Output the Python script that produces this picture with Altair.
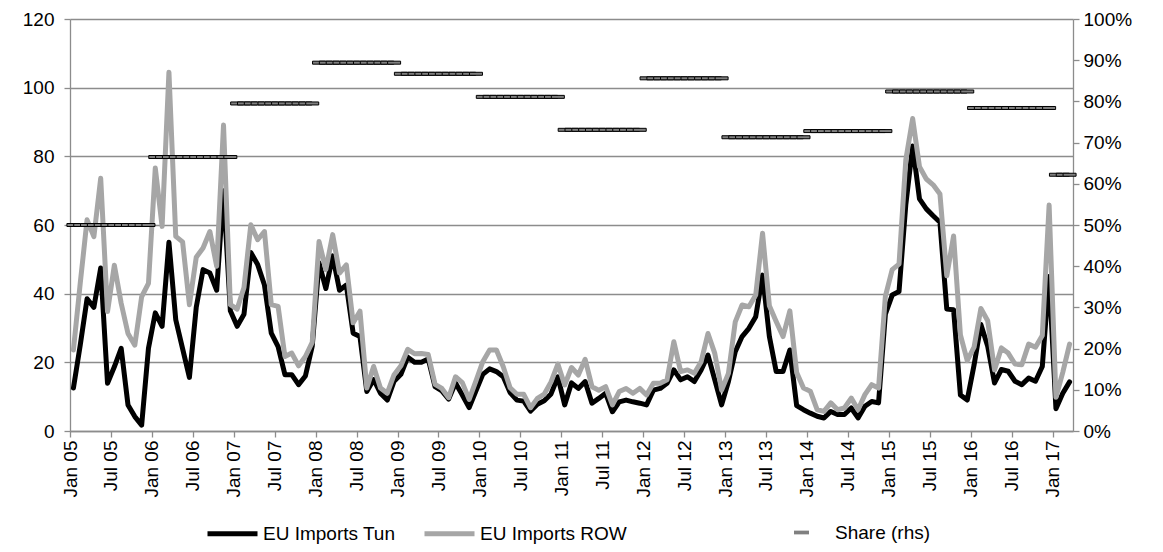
import altair as alt
import pandas as pd

# Monthly values, Jan 05 .. Mar 17
tun = [
    12.5, 25, 38.5, 36, 47.5, 13.9, 18.7, 24.1, 7.6, 4.2, 1.7, 24.1,
    34.4, 30.5, 55, 32.4, 24, 15.6, 36, 47, 46, 41, 70, 35,
    30.5, 34, 52, 48.5, 42.5, 28.5, 24.6, 16.4, 16.4, 13.5, 16, 24.7,
    49, 41.5, 51, 41, 42.5, 28.5, 27.5, 11.5, 15, 11, 9, 14.5,
    16.5, 21.5, 20, 20, 21, 12.9, 11.7, 9.3, 14, 10.5, 6.8, 11.7,
    16.5, 18.1, 17.3, 15.8, 11.2, 9, 8.7, 5.8, 7.8, 8.8, 10.8, 15.8,
    7.6, 14, 12.4, 14.4, 8.1, 9.5, 11, 5.6, 8.5, 9, 8.5, 8.1,
    7.6, 11.9, 12.4, 13.9, 17.8, 14.9, 15.8, 14.4, 17.8, 22.1, 14.9, 7.6,
    14.4, 23.1, 27.5, 29.9, 33.3, 45.4, 27.5, 17.3, 17.3, 23.6, 7.4, 6.2,
    5.2, 4.3, 3.8, 5.7, 4.8, 4.8, 6.7, 3.8, 7.2, 8.6, 8.2, 34,
    39.6, 40.6, 66, 83, 67.6, 64.7, 62.7, 60.8, 35.5, 35.3, 10.5, 9,
    19.2, 31, 24.7, 14, 17.9, 17.4, 14.5, 13.5, 15.4, 14.5, 18.8, 45,
    6.5, 11, 14.3,
]
row = [
    23.6, 43, 61.5, 56.6, 73.6, 34.8, 48.3, 37.2, 28.4, 25, 39.1, 43,
    76.6, 59.6, 104.5, 56.7, 55.1, 36.8, 50.6, 53.3, 58.1, 48, 89.1, 36.8,
    35.5, 41.8, 60.1, 55.7, 58.1, 36.8, 36.3, 21.7, 22.7, 19, 21.7, 25.8,
    55.2, 47, 57.2, 46, 48.4, 31.5, 34.9, 12.5, 18.8, 12.5, 11, 16.4,
    19, 23.8, 22.5, 22.6, 22.3, 13.6, 12.4, 9.7, 15.8, 14.1, 9.2, 14.6,
    20.2, 23.6, 23.6, 18.7, 12.6, 10.7, 10.7, 6.8, 9.5, 10.7, 14.3, 19.5,
    13.4, 18.5, 16.3, 20.9, 12.9, 11.9, 12.9, 7.6, 11.5, 12.4, 11, 12.4,
    10.5, 13.9, 13.9, 14.9, 26, 17.3, 17.8, 16.8, 20.2, 28.4, 22.6, 11.9,
    16.8, 31.8, 36.7, 36.2, 39.6, 57.6, 36.5, 31.9, 27.5, 35, 17, 12.5,
    11.6, 6.2, 5.7, 8.2, 6.2, 6.7, 9.6, 6.2, 10.6, 13.5, 12.5, 39.2,
    47, 48.6, 79, 91, 77, 73.4, 71.7, 69, 45.2, 56.8, 28, 20.5,
    24.4, 35.7, 32.1, 17.8, 24.2, 22.7, 19.5, 19.3, 25.3, 24.4, 27.8, 65.8,
    9.8, 17.1, 25.3,
]
# yearly share (rhs, %), 2005 .. 2017
share_year = [50, 66.5, 79.5, 89.4, 86.7, 81.1, 73.1, 85.6, 71.3, 72.8, 82.4, 78.4, 62.2]

tick_labels = [
    "Jan 05", "Jul 05", "Jan 06", "Jul 06", "Jan 07", "Jul 07", "Jan 08", "Jul 08",
    "Jan 09", "Jul 09", "Jan 10", "Jul 10", "Jan 11", "Jul 11", "Jan 12", "Jul 12",
    "Jan 13", "Jul 13", "Jan 14", "Jul 14", "Jan 15", "Jul 15", "Jan 16", "Jul 16",
    "Jan 17",
]
series_names = ["EU Imports Tun", "EU Imports ROW"]
share_name = "Share (rhs)"

n = len(tun)
lines_df = pd.DataFrame(
    [{"m": i + 0.5, "series": series_names[0], "v": tun[i]} for i in range(n)]
    + [{"m": i + 0.5, "series": series_names[1], "v": row[i]} for i in range(n)]
)
share_df = pd.DataFrame(
    [{"m": i + 0.5, "share": share_year[i // 12] / 100.0, "lab": share_name} for i in range(n)]
)

FONT = "Liberation Sans"
GRID = "#8c8c8c"
FS = 19

label_array = "[" + ",".join("'%s'" % t for t in tick_labels) + "]"
x_enc = alt.X(
    "m:Q",
    scale=alt.Scale(domain=[0, n], nice=False, zero=False),
    axis=alt.Axis(
        values=list(range(0, 6 * len(tick_labels), 6)),
        labelExpr=label_array + "[round(datum.value/6)]",
        labelAngle=270,
        labelFontSize=FS,
        labelPadding=3,
        tickSize=6,
        tickColor=GRID,
        domainColor=GRID,
        domainWidth=1.3,
        tickWidth=1.3,
        grid=False,
        title=None,
        labelColor="black",
        labelOverlap=False,
    ),
)

color_scale = alt.Scale(domain=series_names, range=["#000000", "#a6a6a6"])
y_left = alt.Y(
    "v:Q",
    scale=alt.Scale(domain=[0, 120], nice=False),
    axis=alt.Axis(
        values=[0, 20, 40, 60, 80, 100, 120],
        grid=True,
        gridColor=GRID,
        gridWidth=1.3,
        domainColor=GRID,
        domainWidth=1.3,
        tickColor=GRID,
        tickWidth=1.3,
        tickSize=6,
        labelFontSize=FS,
        labelPadding=10,
        title=None,
        labelColor="black",
    ),
)
color_enc = alt.Color(
    "series:N",
    scale=color_scale,
    legend=alt.Legend(
        orient="none",
        legendX=135,
        legendY=487,
        direction="horizontal",
        title=None,
        symbolType="stroke",
        symbolSize=2500,
        symbolStrokeWidth=5,
        labelFontSize=FS,
        labelOffset=3,
        columnPadding=18,
        padding=0,
        labelColor="black",
    ),
)

black_line = (
    alt.Chart(lines_df)
    .transform_filter(alt.datum.series == series_names[0])
    .mark_line(strokeWidth=5, strokeJoin="round", strokeCap="round")
    .encode(x=x_enc, y=y_left, color=color_enc)
)
gray_line = (
    alt.Chart(lines_df)
    .transform_filter(alt.datum.series == series_names[1])
    .mark_line(strokeWidth=5, strokeJoin="round", strokeCap="round")
    .encode(x=x_enc, y=y_left, color=color_enc)
)
lines = alt.layer(black_line, gray_line)

share = (
    alt.Chart(share_df)
    .mark_tick(orient="horizontal", size=13, thickness=3, fill="#808080", stroke="black", strokeWidth=1, filled=True)
    .encode(
        x=x_enc,
        y=alt.Y(
            "share:Q",
            scale=alt.Scale(domain=[0, 1], nice=False),
            axis=alt.Axis(
                orient="right",
                format=".0%",
                values=[i / 10 for i in range(11)],
                grid=False,
                domainColor=GRID,
                domainWidth=1.3,
                tickColor=GRID,
                tickWidth=1.3,
                tickSize=6,
                labelFontSize=FS,
                labelPadding=4,
                title=None,
                labelColor="black",
            ),
        ),
        opacity=alt.Opacity(
            "lab:N",
            scale=alt.Scale(domain=[share_name], range=[1]),
            legend=alt.Legend(
                orient="none",
                legendX=722,
                legendY=504,
                title=None,
                symbolType="M-1,-0.25H1V0.25H-1Z",
                symbolSize=225,
                symbolFillColor="#000000",
                symbolStrokeColor="black",
                symbolStrokeWidth=1,
                symbolOpacity=1,
                labelFontSize=FS,
                labelOffset=24,
                padding=0,
                labelColor="black",
            ),
        ),
    )
)

chart = (
    alt.layer(lines, share)
    .resolve_scale(y="independent", color="independent")
    .properties(
        width=1003,
        height=412,
        autosize=alt.AutoSizeParams(type="none"),
        padding={"left": 62, "top": 11, "right": 80, "bottom": 116},
    )
    .configure(font=FONT)
    .configure_view(stroke=None)
)

chart.save("out.html", embed_options={"renderer": "svg", "actions": False})
